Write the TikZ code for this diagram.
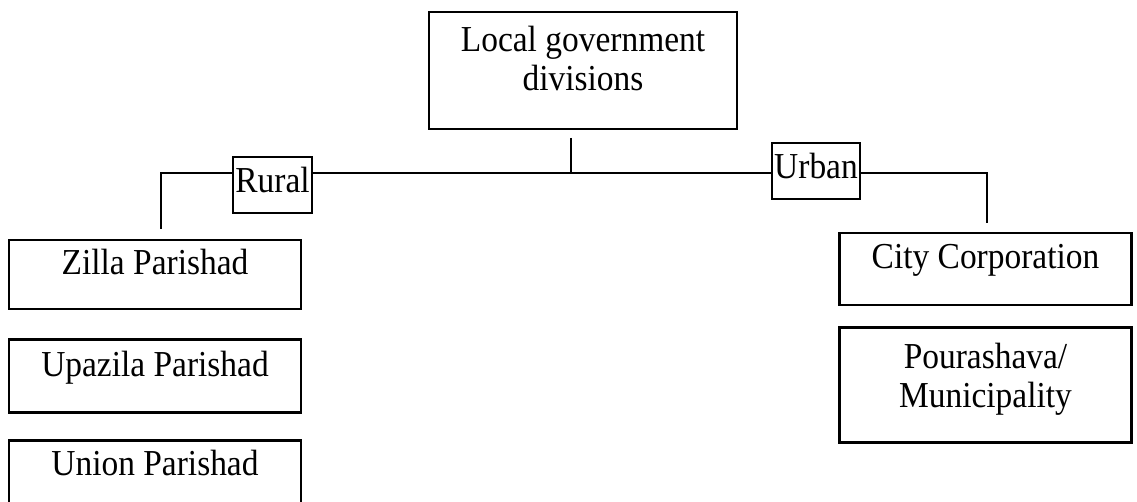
\documentclass[tikz,border=0pt]{standalone}
\usepackage{fontspec}
\setmainfont[FakeStretch=0.915]{Liberation Serif}
\usetikzlibrary{positioning}

\begin{document}
\begin{tikzpicture}[
    x=0.02cm, y=-0.02cm,
    every node/.style={
        font=\fontsize{20.8}{22}\selectfont
    },
    head/.style={
        minimum width=6.16cm, minimum height=2.34cm,
        align=center,
        text depth=14pt,
        rectangle,
        draw, line width=1.5pt,
        inner sep=0pt
    },
    branch/.style={
        minimum height=1.12cm,
        text height=13pt, text depth=4pt,
        text centered,
        rectangle,
        draw, fill=white, line width=1.5pt,
        inner sep=0pt
    },
    unit/.style={
        minimum width=5.84cm, minimum height=1.42cm,
        text height=13pt, text depth=13pt,
        text centered,
        rectangle,
        draw, line width=1.5pt,
        inner sep=0pt
    },
    link/.style={
        line width=1.2pt
    }
]
\useasboundingbox (0,0) rectangle (1137,502);

\node (n1) [head] at (583,70.5) {Local government\\divisions};
\node (n2) [branch, minimum width=1.58cm] at (272.5,185) {Rural};
\node (n3) [branch, minimum width=1.76cm] at (816,171) {Urban};

\node (n4) [unit, minimum height=1.38cm] at (155,274.5) {Zilla Parishad};
\node (n5) [unit, minimum height=1.46cm, below=0.56cm of n4] {Upazila Parishad};
\node (n6) [unit, minimum height=1.62cm, text depth=18.7pt, below=0.5cm of n5] {Union Parishad};

\node (n7) [unit, minimum height=1.44cm] at (985.5,269) {City Corporation};
\node (n8) [unit, minimum height=2.3cm, text height=, text depth=10.8pt, align=center,
            below=0.4cm of n7] {Pourashava/\\Municipality};

\coordinate (stem) at (571,138);
\coordinate (bus)  at (571,173);
\coordinate (ltip) at (161,229);
\coordinate (rtip) at (987,223);

\draw[link] (stem) -- (bus);
\draw[link] (ltip) |- (n2.west |- bus);
\draw[link] (n2.east |- bus) -- (n3.west |- bus);
\draw[link] (n3.east |- bus) -| (rtip);
\end{tikzpicture}
\end{document}
